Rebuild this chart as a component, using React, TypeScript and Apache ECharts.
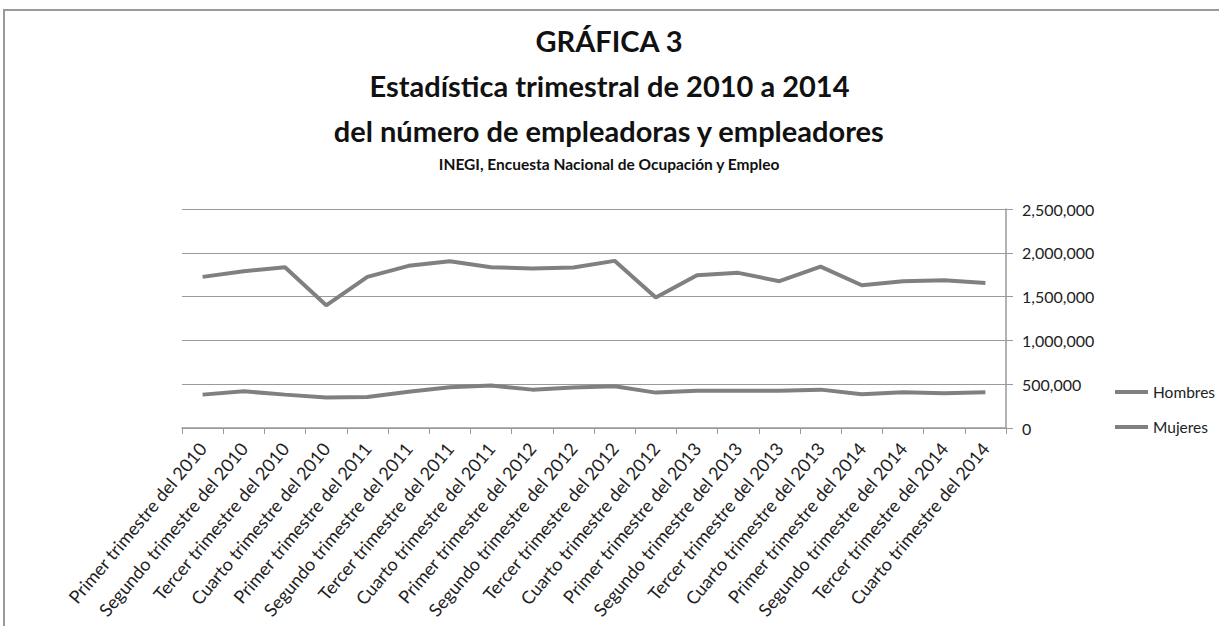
import React, { useEffect, useRef } from "react";
import * as echarts from "echarts";

const categories = [
  "Primer trimestre del 2010", "Segundo trimestre del 2010", "Tercer trimestre del 2010", "Cuarto trimestre del 2010",
  "Primer trimestre del 2011", "Segundo trimestre del 2011", "Tercer trimestre del 2011", "Cuarto trimestre del 2011",
  "Primer trimestre del 2012", "Segundo trimestre del 2012", "Tercer trimestre del 2012", "Cuarto trimestre del 2012",
  "Primer trimestre del 2013", "Segundo trimestre del 2013", "Tercer trimestre del 2013", "Cuarto trimestre del 2013",
  "Primer trimestre del 2014", "Segundo trimestre del 2014", "Tercer trimestre del 2014", "Cuarto trimestre del 2014",
];

const hombres = [
  1725000, 1790000, 1835000, 1401000, 1725000, 1851000, 1904000, 1835000, 1820000, 1832000,
  1908000, 1489000, 1744000, 1771000, 1676000, 1843000, 1630000, 1676000, 1687000, 1656000,
];

const mujeres = [
  381000, 419000, 381000, 347000, 354000, 415000, 465000, 484000, 438000, 461000,
  476000, 404000, 426000, 426000, 426000, 438000, 385000, 407000, 396000, 407000,
];

const yTicks = [0, 500000, 1000000, 1500000, 2000000, 2500000];

const FONT = "Lato, 'Open Sans', sans-serif";
const LINE = "#808080";

export default function App() {
  const ref = useRef<HTMLDivElement>(null);
  useEffect(() => {
    const chart = echarts.init(ref.current!, undefined, { renderer: "svg" });
    chart.setOption({
      animation: false,
      backgroundColor: "#ffffff",
      graphic: [
        {
          type: "rect",
          shape: { x: 4, y: 10, width: 1300, height: 700 },
          style: { fill: "none", stroke: "#9a9a9a", lineWidth: 2 },
          silent: true,
        },
        {
          type: "text", left: "center", top: 26,
          style: { text: "GRÁFICA 3", font: `bold 29px ${FONT}`, fill: "#111" },
        },
        {
          type: "text", left: "center", top: 71,
          style: { text: "Estadística trimestral de 2010 a 2014", font: `bold 29px ${FONT}`, fill: "#111" },
        },
        {
          type: "text", left: "center", top: 116,
          style: { text: "del número de empleadoras y empleadores", font: `bold 29px ${FONT}`, fill: "#111" },
        },
        {
          type: "text", left: "center", top: 156,
          style: { text: "INEGI, Encuesta Nacional de Ocupación y Empleo", font: `bold 15.5px ${FONT}`, fill: "#111" },
        },
      ],
      legend: {
        orient: "vertical",
        left: 1110,
        top: 379,
        itemGap: 19,
        itemWidth: 33,
        itemHeight: 4,
        icon: "rect",
        textStyle: { fontFamily: FONT, fontSize: 15.5, color: "#222" },
        data: ["Hombres", "Mujeres"],
      },
      grid: { left: 182, right: 213, top: 209, bottom: 198, containLabel: false },
      xAxis: {
        type: "category",
        data: categories,
        boundaryGap: true,
        axisLine: { show: true, lineStyle: { color: "#9a9a9a", width: 1.5 } },
        axisTick: { show: true, length: 6, lineStyle: { color: "#9a9a9a" } },
        axisLabel: {
          rotate: 50, interval: 0, fontFamily: FONT, fontSize: 18, color: "#222", margin: 17,
        },
      },
      yAxis: {
        type: "value",
        position: "right",
        min: 0,
        max: 2500000,
        interval: 500000,
        axisLine: { show: true, lineStyle: { color: "#9a9a9a", width: 1.5 } },
        axisTick: { show: true, length: 7, lineStyle: { color: "#9a9a9a" } },
        splitLine: { show: true, lineStyle: { color: "#9a9a9a", width: 1.2 } },
        axisLabel: {
          fontFamily: FONT, fontSize: 16, color: "#222", margin: 16,
          formatter: (v: number) => (yTicks.includes(v) ? v.toLocaleString("en-US") : ""),
        },
      },
      series: [
        {
          name: "Hombres", type: "line", data: hombres, symbol: "none",
          lineStyle: { color: LINE, width: 4 }, itemStyle: { color: LINE },
        },
        {
          name: "Mujeres", type: "line", data: mujeres, symbol: "none",
          lineStyle: { color: LINE, width: 4 }, itemStyle: { color: LINE },
        },
      ],
    });
    return () => chart.dispose();
  }, []);
  return <div ref={ref} style={{ width: 1219, height: 626, position: "absolute", left: 0, top: 0 }} />;
}
